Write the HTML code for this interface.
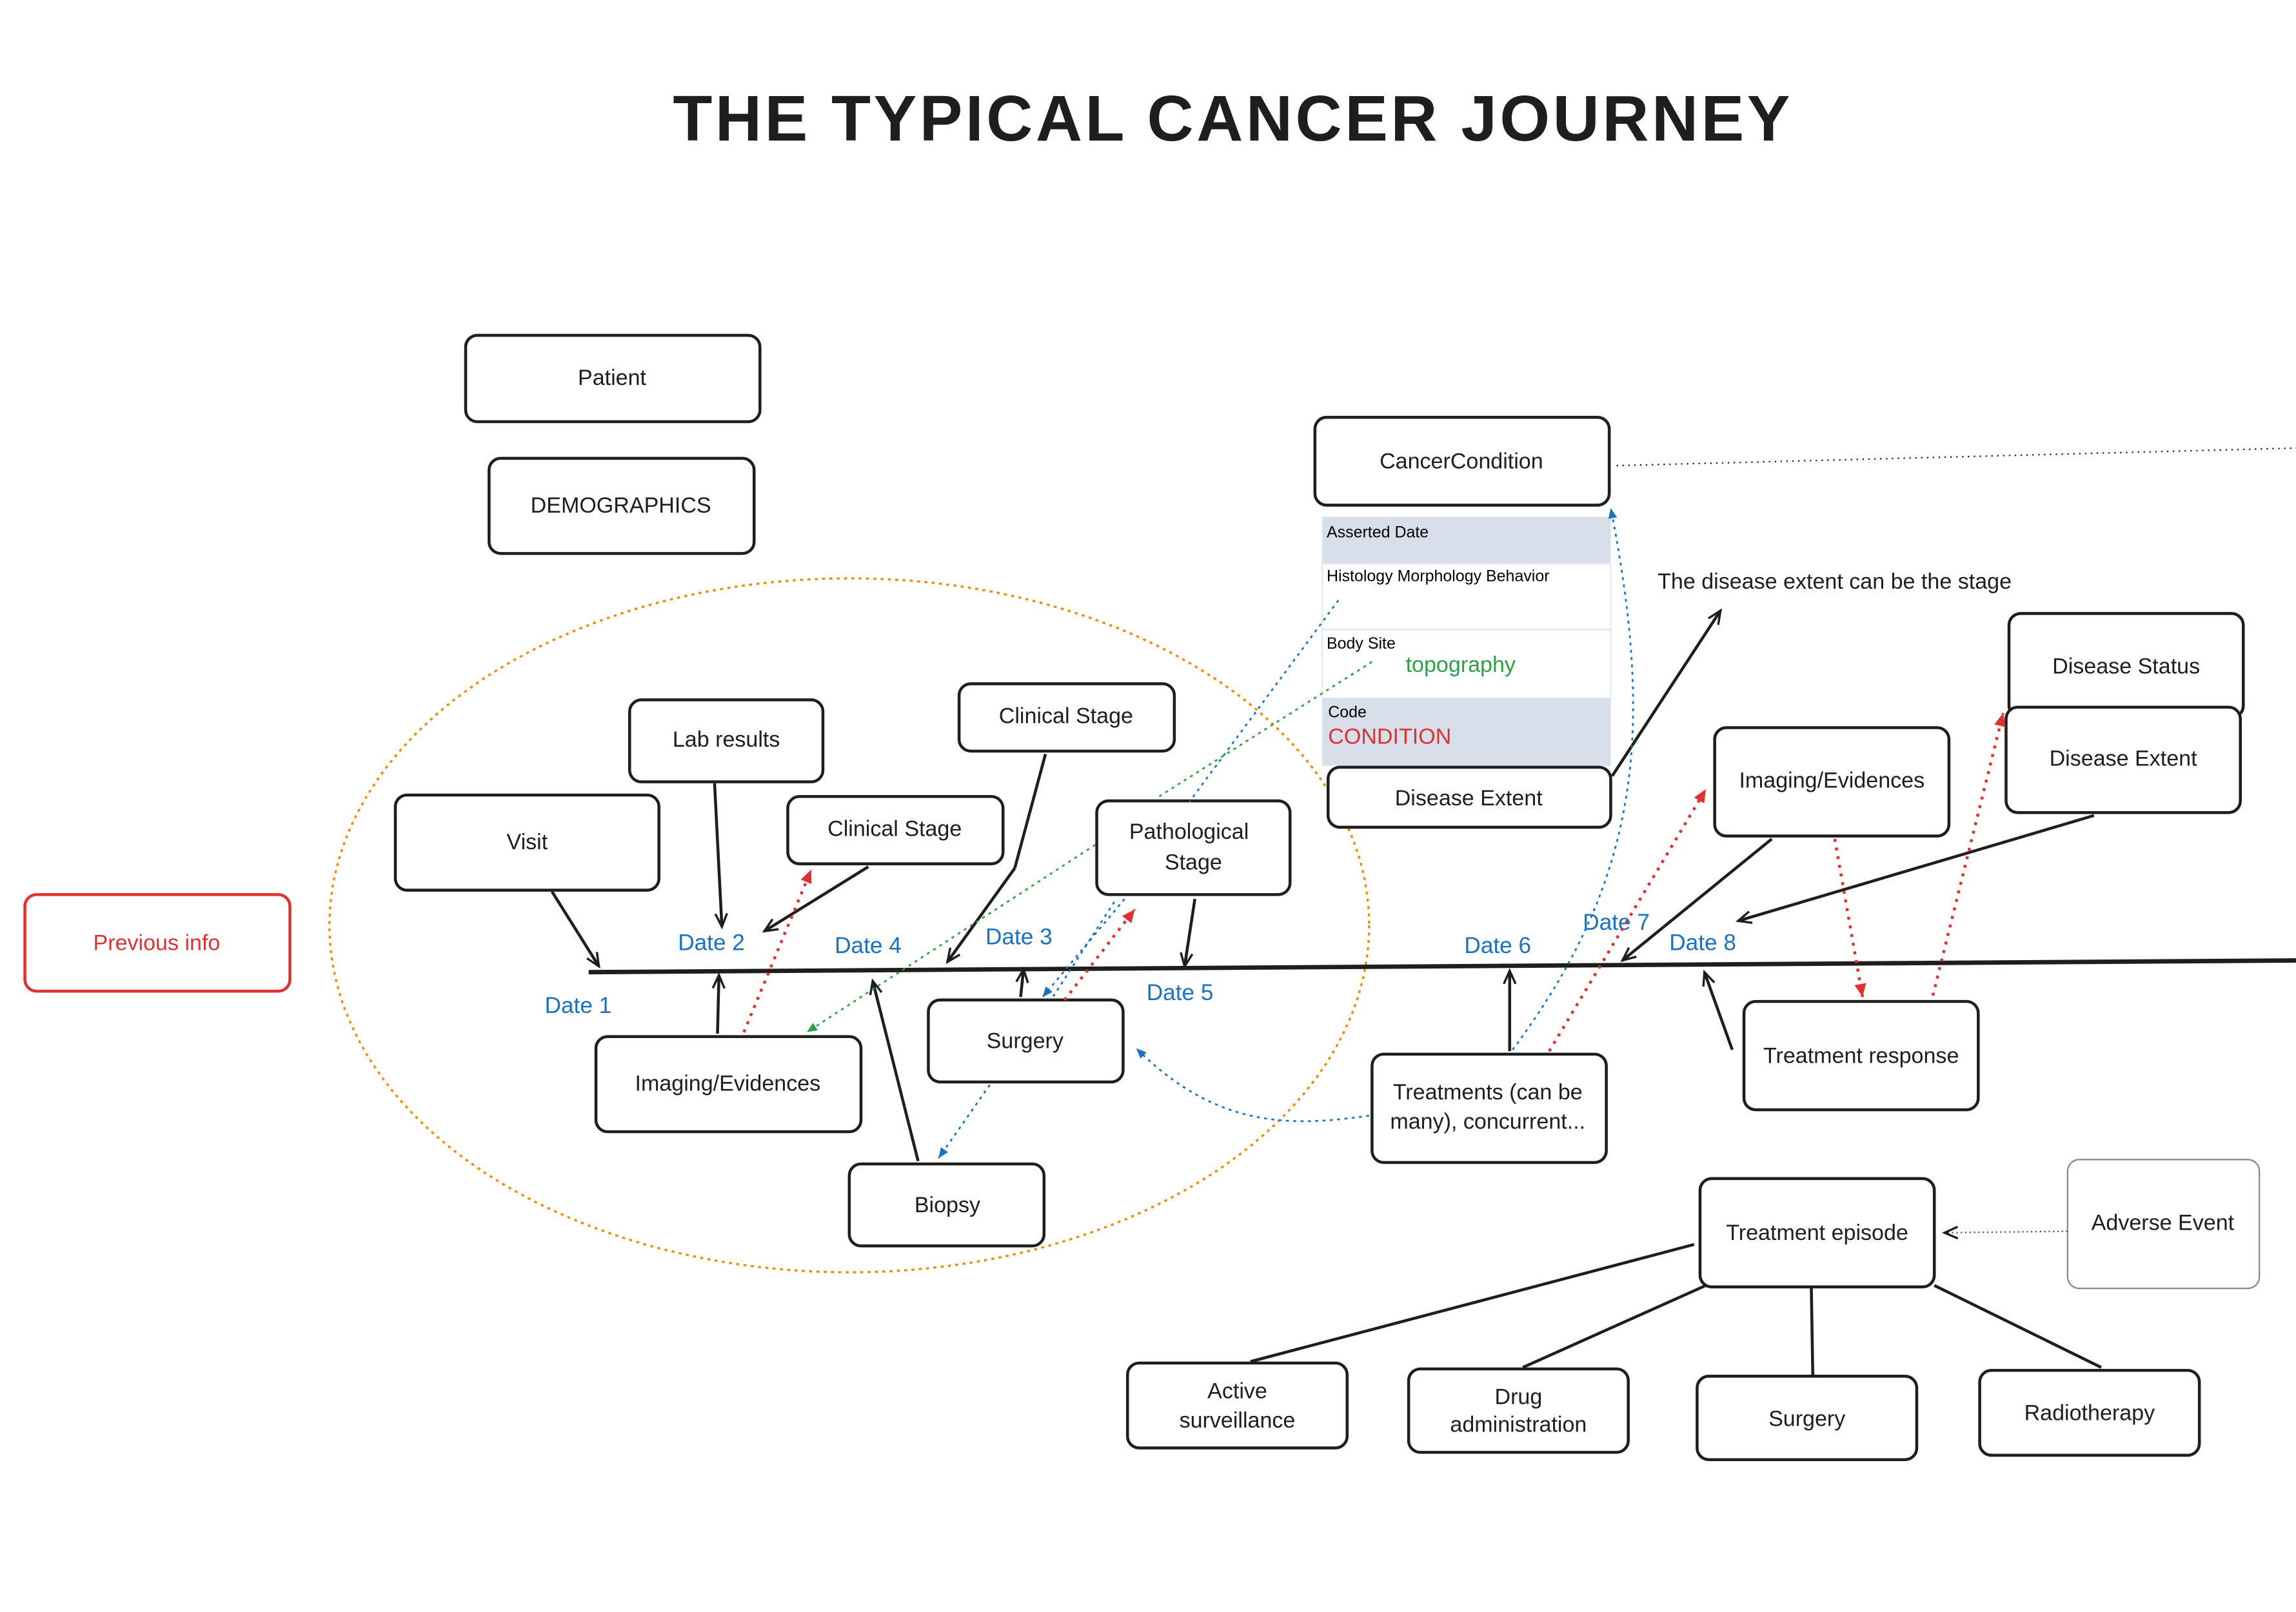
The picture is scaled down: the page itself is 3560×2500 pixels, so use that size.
<!DOCTYPE html>
<html><head><meta charset="utf-8"><style>
html,body{margin:0;padding:0;background:#fff;}
svg{display:block;font-family:"Liberation Sans",sans-serif;}
.b{fill:#fff;stroke:#1e1e1e;stroke-width:2;}
.t{font-size:15px;fill:#1e1e1e;text-anchor:middle;}
.d{font-size:15.5px;fill:#1971c2;}
.a{stroke:#1e1e1e;stroke-width:2;fill:none;}
.r{stroke:#e03131;stroke-width:2;stroke-dasharray:2 4;fill:none;}
.bl{stroke:#1971c2;stroke-width:1.2;stroke-dasharray:2 3;fill:none;}
.g{stroke:#2f9e44;stroke-width:1.2;stroke-dasharray:2 3;fill:none;}
</style></head><body>
<svg width="3560" height="2500" viewBox="0 0 1568 1101">
<defs>
<marker id="ak" markerUnits="userSpaceOnUse" markerWidth="12" markerHeight="12" refX="10" refY="6" orient="auto"><path d="M1,2 L10,6 L1,10" fill="none" stroke="#1e1e1e" stroke-width="1.5"/></marker>
<marker id="ar" markerUnits="userSpaceOnUse" markerWidth="10" markerHeight="10" refX="9" refY="5" orient="auto"><path d="M0,1 L9,5 L0,9 z" fill="#e03131"/></marker>
<marker id="ab" markerUnits="userSpaceOnUse" markerWidth="8" markerHeight="8" refX="7" refY="4" orient="auto"><path d="M0,1 L7,4 L0,7 z" fill="#1971c2"/></marker>
<marker id="ag" markerUnits="userSpaceOnUse" markerWidth="8" markerHeight="8" refX="7" refY="4" orient="auto"><path d="M0,1 L7,4 L0,7 z" fill="#2f9e44"/></marker>
</defs>
<text x="842" y="96" font-size="44" font-weight="bold" text-anchor="middle" fill="#1e1e1e" letter-spacing="2">THE TYPICAL CANCER JOURNEY</text>

<ellipse cx="580" cy="632" rx="355" ry="237" fill="none" stroke="#f08c00" stroke-width="1.5" stroke-dasharray="2 3"/>
<line x1="402" y1="664" x2="1568" y2="656" stroke="#1e1e1e" stroke-width="3"/>
<line x1="1104" y1="318" x2="1568" y2="306" stroke="#1e1e1e" stroke-width="1" stroke-dasharray="1 3"/>

<g><rect class="b" x="318" y="229" width="201" height="59" rx="8"/><text class="t" x="418" y="263">Patient</text></g>
<g><rect class="b" x="334" y="313" width="181" height="65" rx="8"/><text class="t" x="424" y="350">DEMOGRAPHICS</text></g>
<g><rect class="b" x="898" y="285" width="201" height="60" rx="8"/><text class="t" x="998" y="320">CancerCondition</text></g>

<g>
<rect x="903" y="353" width="197" height="32" fill="#d6dfea"/>
<rect x="903" y="385" width="197" height="45" fill="#fff" stroke="#e4e8ee"/>
<rect x="903" y="430" width="197" height="47" fill="#fff" stroke="#e4e8ee"/>
<rect x="903" y="477" width="197" height="46" fill="#d6dfea"/>
<text x="906" y="367" font-size="11">Asserted Date</text>
<text x="906" y="397" font-size="11">Histology Morphology Behavior</text>
<text x="906" y="443" font-size="11">Body Site</text>
<text x="960" y="459" font-size="15" fill="#2f9e44">topography</text>
<text x="907" y="490" font-size="11">Code</text>
<text x="907" y="508" font-size="15" fill="#e03131">CONDITION</text>
</g>
<g><rect class="b" x="907" y="524" width="193" height="41" rx="8"/><text class="t" x="1003" y="550">Disease Extent</text></g>
<text x="1132" y="402" font-size="15" fill="#1e1e1e">The disease extent can be the stage</text>
<line class="a" x1="1101" y1="530" x2="1175" y2="417" marker-end="url(#ak)" stroke-width="1"/>

<g><rect class="b" x="1372" y="419" width="160" height="71" rx="8"/><text class="t" x="1452" y="460">Disease Status</text></g>
<g><rect class="b" x="1370" y="483" width="160" height="72" rx="8"/><text class="t" x="1450" y="523">Disease Extent</text></g>
<g><rect class="b" x="1171" y="497" width="160" height="74" rx="8"/><text class="t" x="1251" y="538">Imaging/Evidences</text></g>
<g><rect class="b" x="1191" y="684" width="160" height="74" rx="8"/><text class="t" x="1271" y="726">Treatment response</text></g>
<g><rect class="b" x="937" y="720" width="160" height="74" rx="8"/><text class="t" x="1016" y="751">Treatments (can be</text><text class="t" x="1016" y="771">many), concurrent...</text></g>
<g><rect class="b" x="1161" y="805" width="160" height="74" rx="8"/><text class="t" x="1241" y="847">Treatment episode</text></g>
<g><rect x="1412" y="792" width="131" height="88" rx="8" fill="#fff" stroke="#888" stroke-width="1"/><text class="t" x="1477" y="840">Adverse Event</text></g>
<line x1="1412" y1="841" x2="1328" y2="842" stroke="#555" stroke-width="1" stroke-dasharray="1 2" marker-end="url(#ak)"/>
<g><rect class="b" x="770" y="931" width="150" height="58" rx="8" stroke-width="1.3"/><text class="t" x="845" y="955">Active</text><text class="t" x="845" y="975">surveillance</text></g>
<g><rect class="b" x="962" y="935" width="150" height="57" rx="8" stroke-width="1.3"/><text class="t" x="1037" y="959">Drug</text><text class="t" x="1037" y="978">administration</text></g>
<g><rect class="b" x="1159" y="940" width="150" height="57" rx="8" stroke-width="1.3"/><text class="t" x="1234" y="974">Surgery</text></g>
<g><rect class="b" x="1352" y="936" width="150" height="58" rx="8" stroke-width="1.3"/><text class="t" x="1427" y="970">Radiotherapy</text></g>
<g class="a" stroke-width="1.5"><line x1="1157" y1="850" x2="854" y2="930"/><line x1="1165" y1="878" x2="1040" y2="934"/><line x1="1237" y1="879" x2="1238" y2="939"/><line x1="1321" y1="878" x2="1435" y2="934"/></g>

<g><rect x="17" y="611" width="181" height="66" rx="8" fill="#fff" stroke="#e03131" stroke-width="2"/><text class="t" x="107" y="649" style="fill:#e03131">Previous info</text></g>
<g><rect class="b" x="270" y="543" width="180" height="65" rx="8"/><text class="t" x="360" y="580">Visit</text></g>
<g><rect class="b" x="430" y="478" width="132" height="56" rx="8"/><text class="t" x="496" y="510">Lab results</text></g>
<g><rect class="b" x="538" y="544" width="147" height="46" rx="8"/><text class="t" x="611" y="571">Clinical Stage</text></g>
<g><rect class="b" x="655" y="467" width="147" height="46" rx="8"/><text class="t" x="728" y="494">Clinical Stage</text></g>
<g><rect class="b" x="749" y="547" width="132" height="64" rx="8"/><text class="t" x="812" y="573">Pathological</text><text class="t" x="815" y="594">Stage</text></g>
<g><rect class="b" x="407" y="708" width="181" height="65" rx="8"/><text class="t" x="497" y="745">Imaging/Evidences</text></g>
<g><rect class="b" x="634" y="683" width="133" height="56" rx="8"/><text class="t" x="700" y="716">Surgery</text></g>
<g><rect class="b" x="580" y="795" width="133" height="56" rx="8"/><text class="t" x="647" y="828">Biopsy</text></g>

<g>
<text class="d" x="372" y="692">Date 1</text><text class="d" x="463" y="649">Date 2</text>
<text class="d" x="673" y="645">Date 3</text><text class="d" x="570" y="651">Date 4</text>
<text class="d" x="783" y="683">Date 5</text><text class="d" x="1000" y="651">Date 6</text>
<text class="d" x="1081" y="635">Date 7</text><text class="d" x="1140" y="649">Date 8</text>
</g>

<g>
<line class="a" x1="377" y1="609" x2="409" y2="660" marker-end="url(#ak)"/>
<line class="a" x1="488" y1="535" x2="493" y2="633" marker-end="url(#ak)"/>
<line class="a" x1="593" y1="592" x2="522" y2="636" marker-end="url(#ak)"/>
<line class="a" x1="714" y1="515" x2="693" y2="593"/>
<line class="a" x1="693" y1="593" x2="647" y2="657" marker-end="url(#ak)"/>
<line class="a" x1="816" y1="614" x2="809" y2="660" marker-end="url(#ak)"/>
<line class="a" x1="490" y1="706" x2="491" y2="666" marker-end="url(#ak)"/>
<line class="a" x1="627" y1="793" x2="596" y2="670" marker-end="url(#ak)"/>
<line class="a" x1="697" y1="681" x2="699" y2="662" marker-end="url(#ak)"/>
<line class="a" x1="1031" y1="718" x2="1031" y2="663" marker-end="url(#ak)"/>
<line class="a" x1="1210" y1="573" x2="1108" y2="656" marker-end="url(#ak)" stroke-width="2.5"/>
<line class="a" x1="1430" y1="557" x2="1187" y2="629" marker-end="url(#ak)" stroke-width="1"/>
<line class="a" x1="1183" y1="717" x2="1164" y2="664" marker-end="url(#ak)"/>
</g>
<g>
<line class="r" x1="508" y1="705" x2="554" y2="594" marker-end="url(#ar)"/>
<line class="r" x1="727" y1="683" x2="775" y2="621" marker-end="url(#ar)"/>
<line class="r" x1="1058" y1="718" x2="1165" y2="539" marker-end="url(#ar)"/>
<line class="r" x1="1253" y1="573" x2="1272" y2="681" marker-end="url(#ar)"/>
<line class="r" x1="1320" y1="680" x2="1368" y2="487" marker-end="url(#ar)"/>
</g>
<g>
<line class="bl" x1="914" y1="410" x2="812" y2="548"/>
<line class="bl" x1="768" y1="614" x2="712" y2="681" marker-end="url(#ab)"/>
<line class="bl" x1="761" y1="616" x2="719" y2="681"/>
<line class="bl" x1="676" y1="741" x2="641" y2="791" marker-end="url(#ab)"/>
<path class="bl" d="M935,762 C880,770 830,770 776,716" marker-end="url(#ab)"/>
<path class="bl" d="M1033,717 C1120,600 1130,500 1100,347" marker-end="url(#ab)"/>
<line class="g" x1="937" y1="452" x2="790" y2="545"/>
<line class="g" x1="748" y1="577" x2="551" y2="705" marker-end="url(#ag)"/>
</g>
</svg>
</body></html>
